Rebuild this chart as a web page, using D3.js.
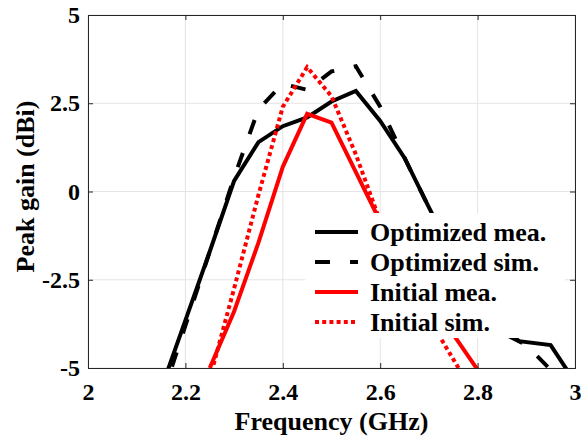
<!DOCTYPE html>
<html>
<head>
<meta charset="utf-8">
<script src="https://cdn.jsdelivr.net/npm/d3@7"></script>
<style>
  html, body { margin: 0; padding: 0; background: #fff; }
  svg { display: block; }
  text { font-family: "Liberation Serif", "Times New Roman", serif; font-weight: bold; fill: #000; }
</style>
</head>
<body>
<svg id="chart" width="581" height="437"></svg>
<script>
// Peak gain vs. frequency for the optimized and initial antenna designs
const optMeaFreq = [2.15, 2.2, 2.25, 2.3, 2.35, 2.4, 2.45, 2.5, 2.55, 2.6, 2.65, 2.7, 2.75, 2.8, 2.85, 2.885, 2.95, 3.0];
const optMeaGain = [-5.6, -3.65, -1.7, 0.3, 1.4, 1.85, 2.1, 2.55, 2.85, 2.0, 0.95, -0.45, -1.8, -3.0, -3.8, -4.24, -4.35, -5.4];

const optSimFreq = [2.15, 2.2, 2.25, 2.3, 2.35, 2.4, 2.45, 2.5, 2.55, 2.6, 2.65, 2.7, 2.75, 2.8, 2.85, 2.9, 2.95];
const optSimGain = [-5.9, -3.8, -1.7, 0.4, 2.33, 3.05, 2.88, 3.4, 3.55, 2.4, 0.95, -0.45, -1.9, -3.2, -4.0, -4.35, -5.05];

const iniMeaFreq = [2.25, 2.3, 2.35, 2.4, 2.45, 2.5, 2.55, 2.6, 2.65, 2.7, 2.75, 2.8];
const iniMeaGain = [-5.0, -3.4, -1.45, 0.7, 2.2, 1.95, 0.55, -0.85, -1.95, -3.0, -4.05, -5.05];

const iniSimFreq = [2.25, 2.3, 2.35, 2.4, 2.45, 2.5, 2.55, 2.6, 2.65, 2.7, 2.75, 2.8];
const iniSimGain = [-5.3, -2.75, -0.1, 2.4, 3.52, 2.7, 1.05, -0.85, -2.3, -3.6, -4.75, -5.9];

const xTicks = [2, 2.2, 2.4, 2.6, 2.8, 3];
const yTicks = [-5, -2.5, 0, 2.5, 5];
const xTickLabels = ["2", "2.2", "2.4", "2.6", "2.8", "3"];
const yTickLabels = ["-5", "-2.5", "0", "2.5", "5"];

const seriesNames = ["Optimized mea.", "Optimized sim.", "Initial mea.", "Initial sim."];

const series = [
  { name: seriesNames[0], freq: optMeaFreq, gain: optMeaGain, color: "#000", dash: null },
  { name: seriesNames[1], freq: optSimFreq, gain: optSimGain, color: "#000", dash: "15,20" },
  { name: seriesNames[2], freq: iniMeaFreq, gain: iniMeaGain, color: "#ff0000", dash: null },
  { name: seriesNames[3], freq: iniSimFreq, gain: iniSimGain, color: "#ff0000", dash: "4,3.2" }
];

const margin = { left: 88, right: 6, top: 15, bottom: 69 };
const W = 581, H = 437;
const innerW = W - margin.left - margin.right;
const innerH = H - margin.top - margin.bottom;

const svg = d3.select("#chart");
const g = svg.append("g").attr("transform", `translate(${margin.left},${margin.top})`);

const x = d3.scaleLinear().domain([2, 3]).range([0, innerW]);
const y = d3.scaleLinear().domain([-5, 5]).range([innerH, 0]);

// grid
const grid = g.append("g").attr("stroke", "#e4e4e4").attr("stroke-width", 1);
grid.selectAll(".gx").data(xTicks).join("line")
  .attr("x1", d => x(d)).attr("x2", d => x(d)).attr("y1", 0).attr("y2", innerH);
grid.selectAll(".gy").data(yTicks).join("line")
  .attr("y1", d => y(d)).attr("y2", d => y(d)).attr("x1", 0).attr("x2", innerW);

// clip to plot box
svg.append("defs").append("clipPath").attr("id", "plotClip")
  .append("rect").attr("x", 0).attr("y", 0).attr("width", innerW).attr("height", innerH);

const line = d3.line().x(d => x(d[0])).y(d => y(d[1]));
const plot = g.append("g").attr("clip-path", "url(#plotClip)");
series.forEach(s => {
  const pts = s.freq.map((f, i) => [f, s.gain[i]]);
  plot.append("path")
    .attr("d", line(pts))
    .attr("fill", "none")
    .attr("stroke", s.color)
    .attr("stroke-width", 4)
    .attr("stroke-linejoin", "miter")
    .attr("stroke-dasharray", s.dash);
});

// legend (opaque box)
const leg = g.append("g").attr("transform", `translate(${305 - margin.left},${213 - margin.top})`);
leg.append("rect").attr("x", 0).attr("y", 0).attr("width", 260).attr("height", 125).attr("fill", "#fff");
series.forEach((s, i) => {
  const cy = 19 + i * 30;
  leg.append("line")
    .attr("x1", 10).attr("x2", 53).attr("y1", cy).attr("y2", cy)
    .attr("stroke", s.color).attr("stroke-width", 4)
    .attr("stroke-dasharray", s.dash);
  leg.append("text")
    .attr("x", 65).attr("y", cy + 8.5)
    .attr("font-size", 26)
    .text(s.name);
});

// axes
const axisColor = "#262626";
const xAxis = d3.axisBottom(x).tickValues(xTicks).tickFormat((d, i) => xTickLabels[i]).tickSize(-5).tickPadding(15);
const yAxis = d3.axisLeft(y).tickValues(yTicks).tickFormat((d, i) => yTickLabels[i]).tickSize(-5).tickPadding(8);
const xTop = d3.axisTop(x).tickValues(xTicks).tickFormat("").tickSize(-5);
const yRight = d3.axisRight(y).tickValues(yTicks).tickFormat("").tickSize(-5);

function styleAxis(sel) {
  sel.selectAll("path").attr("stroke", axisColor);
  sel.selectAll("line").attr("stroke", axisColor);
  sel.selectAll("text")
    .attr("fill", "#000")
    .attr("font-size", 24)
    .attr("font-family", "'Liberation Serif', 'Times New Roman', serif")
    .attr("font-weight", "bold");
}

g.append("g").attr("transform", `translate(0,${innerH})`).call(xAxis).call(styleAxis);
g.append("g").call(yAxis).call(styleAxis);
g.append("g").call(xTop).call(styleAxis);
g.append("g").attr("transform", `translate(${innerW},0)`).call(yRight).call(styleAxis);

// axis titles
svg.append("text")
  .attr("x", margin.left + innerW / 2).attr("y", 430)
  .attr("text-anchor", "middle").attr("font-size", 26)
  .text("Frequency (GHz)");

svg.append("text")
  .attr("transform", `translate(34,${margin.top + innerH / 2 - 5}) rotate(-90)`)
  .attr("text-anchor", "middle").attr("font-size", 26)
  .text("Peak gain (dBi)");
</script>
</body>
</html>
